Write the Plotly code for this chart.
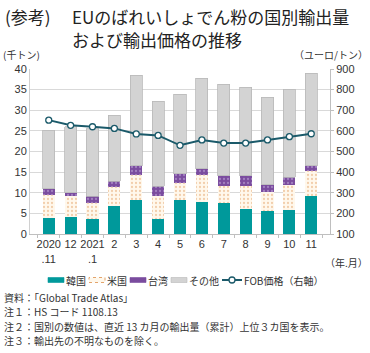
import plotly.graph_objects as go

categories = ["2020.11", "2020.12", "2021.1", "2021.2", "2021.3", "2021.4", "2021.5",
              "2021.6", "2021.7", "2021.8", "2021.9", "2021.10", "2021.11"]
tick_labels = ["2020<br>.11", "12", "2021<br>.1", "2", "3", "4", "5", "6", "7", "8", "9", "10", "11"]
korea = [4.0, 4.1, 3.7, 6.8, 8.2, 3.7, 8.2, 7.8, 7.6, 6.0, 5.5, 5.7, 9.1]
usa = [5.5, 5.0, 3.7, 4.5, 6.0, 5.4, 4.2, 6.4, 4.0, 5.6, 4.6, 6.3, 6.1]
taiwan = [1.5, 0.9, 1.8, 1.5, 2.3, 2.5, 2.2, 1.6, 2.5, 2.5, 1.9, 1.8, 1.3]
other = [14.2, 16.0, 16.3, 16.0, 22.0, 20.6, 19.3, 21.9, 22.2, 21.5, 21.1, 21.3, 22.5]
fob = [652, 627, 620, 612, 585, 578, 530, 556, 541, 541, 556, 572, 586]
series_names = ["韓国", "米国", "台湾", "その他", "FOB価格（右軸）"]

JP = "Noto Sans CJK JP"
NUM = "Liberation Sans, Arial, sans-serif"
TEAL = "#00999b"
US_BG, US_DOT = "#fff8ec", "#e3a46c"
TW_BG, TW_DOT = "#7a4c9e", "#c9b3e2"
GREY, GREY_EDGE = "#d3d3d3", "#b9b9b9"
LINE = "#1b5a6a"

fig = go.Figure()
fig.add_trace(go.Bar(x=categories, y=korea, name=series_names[0], marker=dict(color=TEAL, line=dict(width=0))))
fig.add_trace(go.Bar(x=categories, y=usa, name=series_names[1],
                     marker=dict(color=US_BG, line=dict(width=0),
                                 pattern=dict(shape=".", fgcolor=US_DOT, bgcolor=US_BG, size=4, solidity=0.25))))
fig.add_trace(go.Bar(x=categories, y=taiwan, name=series_names[2],
                     marker=dict(color=TW_BG, line=dict(width=0),
                                 pattern=dict(shape=".", fgcolor=TW_DOT, bgcolor=TW_BG, size=4, solidity=0.25))))
fig.add_trace(go.Bar(x=categories, y=other, name=series_names[3],
                     marker=dict(color=GREY, line=dict(width=0.8, color=GREY_EDGE))))
fig.add_trace(go.Scatter(x=categories, y=fob, name=series_names[4], yaxis="y2", mode="lines+markers",
                         line=dict(color=LINE, width=2),
                         marker=dict(symbol="circle", size=6, color="white", line=dict(color=LINE, width=1.3))))


def py(p):
    return (234 - p) / 165.0


def px(p):
    return (p - 30) / 300.0


def ann(text, x, y, xanchor="left", size=10, color="#333", align="left"):
    return dict(text=text, x=px(x), y=py(y), xref="paper", yref="paper", xanchor=xanchor, yanchor="middle",
                align=align, showarrow=False, borderpad=0, font=dict(family=JP, size=size, color=color))


annotations = [
    ann("(参考)", 4, 16.5, size=17, color="#222"),
    ann("EUのばれいしょでん粉の国別輸出量", 71, 16.5, size=17, color="#222"),
    ann("および輸出価格の推移", 71, 39.5, size=17, color="#222"),
    ann("(千トン)", 2, 54),
    ann("（ユーロ/トン）", 369, 54, xanchor="right"),
    ann("（年.月）", 369, 262, xanchor="right"),
]
notes = ["資料：「Global Trade Atlas」",
         "注１：HS コード 1108.13",
         "注２：国別の数値は、直近 13 カ月の輸出量（累計）上位３カ国を表示。",
         "注３：輸出先の不明なものを除く。"]
for i, t in enumerate(notes):
    annotations.append(ann(t, 3, 297 + 14.5 * i))

# custom compact legend
shapes = []
LEG_Y = 280
legend_items = [
    (48, 64, "bar", TEAL, TEAL, None),
    (89, 105, "bar", US_BG, US_DOT, "dot"),
    (130, 146, "bar", TW_BG, TW_BG, None),
    (171, 187, "bar", GREY, GREY_EDGE, None),
    (222, 242, "line", LINE, LINE, None),
]
for (x0, x1, kind, fill, edge, dash), name in zip(legend_items, series_names):
    if kind == "bar":
        shapes.append(dict(type="rect", xref="paper", yref="paper", x0=px(x0), x1=px(x1),
                           y0=py(LEG_Y + 2.5), y1=py(LEG_Y - 2.5), fillcolor=fill,
                           line=dict(color=edge, width=1 if dash else 0.6, dash=dash or "solid")))
    else:
        shapes.append(dict(type="line", xref="paper", yref="paper", x0=px(x0), x1=px(x1),
                           y0=py(LEG_Y), y1=py(LEG_Y), line=dict(color=fill, width=2)))
        cx = (x0 + x1) / 2
        shapes.append(dict(type="circle", xref="paper", yref="paper", x0=px(cx - 3), x1=px(cx + 3),
                           y0=py(LEG_Y + 3), y1=py(LEG_Y - 3), fillcolor="white",
                           line=dict(color=fill, width=1.3)))
    annotations.append(ann(name, x1 + 1, LEG_Y))

fig.update_layout(
    width=370, height=353,
    margin=dict(l=30, r=40, t=69, b=119),
    paper_bgcolor="white", plot_bgcolor="white",
    barmode="stack", bargap=0.45,
    showlegend=False,
    xaxis=dict(type="category", tickmode="array", tickvals=categories, ticktext=tick_labels, tickangle=0,
               tickfont=dict(family=NUM, size=11, color="#333"), showline=True, linecolor="#bfbfbf",
               ticks="outside", ticklen=3, tickcolor="#bfbfbf", tickson="boundaries", showgrid=False),
    yaxis=dict(range=[0, 40], dtick=5, tickfont=dict(family=NUM, size=11, color="#333"),
               showgrid=True, gridcolor="#d9d9d9", gridwidth=1, showline=True, linecolor="#d0d0d0",
               zeroline=False, ticks="", ticklen=0),
    yaxis2=dict(range=[100, 900], dtick=100, overlaying="y", side="right",
                tickfont=dict(family=NUM, size=11, color="#333"), showgrid=False, showline=True,
                linecolor="#bfbfbf", ticks="outside", ticklen=3, tickcolor="#bfbfbf", zeroline=False),
    annotations=annotations,
    shapes=shapes,
)

fig.write_html("out.html")
